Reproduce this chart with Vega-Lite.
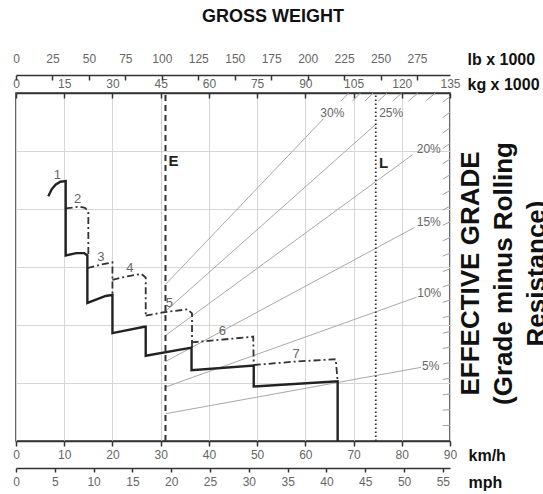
{
  "$schema": "https://vega.github.io/schema/vega-lite/v6.json",
  "width": 434,
  "height": 348,
  "autosize": {"type": "none"},
  "padding": {"left": 16, "top": 93, "right": 93, "bottom": 53},
  "background": "white",
  "title": {"text": "GROSS WEIGHT", "anchor": "middle", "dx": 40, "offset": 25, "fontSize": 18, "fontWeight": "bold", "font": "Liberation Sans", "color": "#111"},
  "config": {
    "font": "Liberation Sans",
    "view": {"stroke": "#333", "strokeWidth": 1.5},
    "axis": {"labelFont": "Liberation Sans", "titleFont": "Liberation Sans"}
  },
  "datasets": {
    "solid": [
      {"o": 1, "k": 6.7, "r": 21.1}, {"o": 2, "k": 7.4, "r": 21.7}, {"o": 3, "k": 8.2, "r": 22.1}, {"o": 4, "k": 9.2, "r": 22.35}, {"o": 5, "k": 10.3, "r": 22.4},
      {"o": 6, "k": 10.3, "r": 16.0}, {"o": 7, "k": 12.5, "r": 16.2}, {"o": 8, "k": 14.1, "r": 16.2}, {"o": 9, "k": 14.8, "r": 16.0},
      {"o": 10, "k": 14.8, "r": 11.9}, {"o": 11, "k": 18.6, "r": 12.5}, {"o": 12, "k": 20.0, "r": 12.6},
      {"o": 13, "k": 20.0, "r": 9.3}, {"o": 14, "k": 26.6, "r": 9.85}, {"o": 15, "k": 26.9, "r": 9.85},
      {"o": 16, "k": 26.9, "r": 7.35}, {"o": 17, "k": 36.4, "r": 8.05},
      {"o": 18, "k": 36.4, "r": 6.1}, {"o": 19, "k": 49.3, "r": 6.5},
      {"o": 20, "k": 49.3, "r": 4.7}, {"o": 21, "k": 66.7, "r": 5.15},
      {"o": 22, "k": 66.7, "r": 0}
    ],
    "dd": [
      {"g": 2, "o": 1, "k": 10.3, "r": 20.05}, {"g": 2, "o": 2, "k": 13.1, "r": 20.2}, {"g": 2, "o": 3, "k": 14.3, "r": 20.1}, {"g": 2, "o": 4, "k": 15.0, "r": 19.8}, {"g": 2, "o": 5, "k": 15.0, "r": 16.0},
      {"g": 3, "o": 1, "k": 14.8, "r": 14.9}, {"g": 3, "o": 2, "k": 17.5, "r": 15.2}, {"g": 3, "o": 3, "k": 20.0, "r": 15.4}, {"g": 3, "o": 4, "k": 20.0, "r": 12.6},
      {"g": 4, "o": 1, "k": 20.0, "r": 13.9}, {"g": 4, "o": 2, "k": 23.1, "r": 14.2}, {"g": 4, "o": 3, "k": 26.0, "r": 14.4}, {"g": 4, "o": 4, "k": 26.9, "r": 14.1}, {"g": 4, "o": 5, "k": 26.9, "r": 10.8},
      {"g": 5, "o": 1, "k": 26.9, "r": 10.8}, {"g": 5, "o": 2, "k": 30.7, "r": 11.1}, {"g": 5, "o": 3, "k": 35.6, "r": 11.35}, {"g": 5, "o": 4, "k": 36.5, "r": 11.0}, {"g": 5, "o": 5, "k": 36.5, "r": 8.05},
      {"g": 6, "o": 1, "k": 36.4, "r": 8.5}, {"g": 6, "o": 2, "k": 43.0, "r": 8.75}, {"g": 6, "o": 3, "k": 49.2, "r": 9.0}, {"g": 6, "o": 4, "k": 49.3, "r": 6.5},
      {"g": 7, "o": 1, "k": 49.3, "r": 6.55}, {"g": 7, "o": 2, "k": 58.0, "r": 6.85}, {"g": 7, "o": 3, "k": 66.3, "r": 7.05}, {"g": 7, "o": 4, "k": 66.7, "r": 5.15}
    ],
    "grade": [
      {"p": 5, "k": 31, "r": 2.35}, {"p": 5, "k": 84, "r": 6.35},
      {"p": 10, "k": 31, "r": 4.65}, {"p": 10, "k": 83.1, "r": 12.4},
      {"p": 15, "k": 31, "r": 6.85}, {"p": 15, "k": 82.6, "r": 18.4},
      {"p": 20, "k": 31, "r": 9.1}, {"p": 20, "k": 82.3, "r": 24.7},
      {"p": 25, "k": 31, "r": 11.2}, {"p": 25, "k": 74.6, "r": 27.3},
      {"p": 30, "k": 31, "r": 13.5}, {"p": 30, "k": 63.8, "r": 27.8}
    ],
    "hatch": [
      {"id": 1, "k": 88.5, "r": 1.33}, {"id": 1, "k": 90, "r": 1.35},
      {"id": 2, "k": 88.5, "r": 2.66}, {"id": 2, "k": 90, "r": 2.70},
      {"id": 3, "k": 88.5, "r": 3.98}, {"id": 3, "k": 90, "r": 4.05},
      {"id": 4, "k": 88.5, "r": 5.31}, {"id": 4, "k": 90, "r": 5.40},
      {"id": 5, "k": 88.5, "r": 6.64}, {"id": 5, "k": 90, "r": 6.75},
      {"id": 6, "k": 88.5, "r": 7.97}, {"id": 6, "k": 90, "r": 8.10},
      {"id": 7, "k": 88.5, "r": 9.29}, {"id": 7, "k": 90, "r": 9.45},
      {"id": 8, "k": 88.5, "r": 10.62}, {"id": 8, "k": 90, "r": 10.80},
      {"id": 9, "k": 88.5, "r": 11.95}, {"id": 9, "k": 90, "r": 12.15},
      {"id": 10, "k": 88.5, "r": 13.28}, {"id": 10, "k": 90, "r": 13.50},
      {"id": 11, "k": 88.5, "r": 14.60}, {"id": 11, "k": 90, "r": 14.85},
      {"id": 12, "k": 88.5, "r": 15.93}, {"id": 12, "k": 90, "r": 16.20},
      {"id": 13, "k": 88.5, "r": 17.26}, {"id": 13, "k": 90, "r": 17.55},
      {"id": 14, "k": 88.5, "r": 18.59}, {"id": 14, "k": 90, "r": 18.90},
      {"id": 15, "k": 88.5, "r": 19.91}, {"id": 15, "k": 90, "r": 20.25},
      {"id": 16, "k": 88.5, "r": 21.24}, {"id": 16, "k": 90, "r": 21.60},
      {"id": 17, "k": 88.5, "r": 22.57}, {"id": 17, "k": 90, "r": 22.95},
      {"id": 18, "k": 88.5, "r": 23.90}, {"id": 18, "k": 90, "r": 24.30},
      {"id": 19, "k": 88.5, "r": 25.22}, {"id": 19, "k": 90, "r": 25.65},
      {"id": 20, "k": 88.5, "r": 26.55}, {"id": 20, "k": 90, "r": 27.00},
      {"id": 21, "k": 88.5, "r": 27.88}, {"id": 21, "k": 90, "r": 28.35},
      {"id": 22, "k": 88.5, "r": 29.21}, {"id": 22, "k": 90, "r": 29.70},
      {"id": 23, "k": 84.93, "r": 29.3}, {"id": 23, "k": 86.96, "r": 30},
      {"id": 24, "k": 81.39, "r": 29.3}, {"id": 24, "k": 83.33, "r": 30},
      {"id": 25, "k": 78.13, "r": 29.3}, {"id": 25, "k": 80.0, "r": 30},
      {"id": 26, "k": 75.13, "r": 29.3}, {"id": 26, "k": 76.92, "r": 30},
      {"id": 27, "k": 72.35, "r": 29.3}, {"id": 27, "k": 74.07, "r": 30},
      {"id": 28, "k": 69.76, "r": 29.3}, {"id": 28, "k": 71.43, "r": 30},
      {"id": 29, "k": 67.36, "r": 29.3}, {"id": 29, "k": 68.97, "r": 30}
    ],
    "glab": [
      {"t": "1", "k": 8.6, "r": 22.9}, {"t": "2", "k": 12.8, "r": 20.9}, {"t": "3", "k": 17.6, "r": 15.9},
      {"t": "4", "k": 23.6, "r": 14.9}, {"t": "5", "k": 31.8, "r": 11.9}, {"t": "6", "k": 42.8, "r": 9.5}, {"t": "7", "k": 58.1, "r": 7.5}
    ],
    "plab": [
      {"t": "30%", "k": 65.6, "r": 28.3}, {"t": "25%", "k": 77.8, "r": 28.3}, {"t": "20%", "k": 85.6, "r": 25.2},
      {"t": "15%", "k": 85.6, "r": 18.9}, {"t": "10%", "k": 85.7, "r": 12.8}, {"t": "5%", "k": 86.0, "r": 6.45}
    ]
  },
  "resolve": {"scale": {"x": "independent"}, "axis": {"x": "independent"}},
  "layer": [
    {
      "encoding": {
        "x": {"field": "k", "type": "quantitative", "scale": {"domain": [0, 90], "nice": false, "zero": false},
          "axis": {"orient": "bottom", "values": [0, 10, 20, 30, 40, 50, 60, 70, 80, 90], "grid": true, "gridColor": "#d6d6d6", "gridWidth": 1,
            "domain": true, "domainColor": "#333", "domainWidth": 1.5, "ticks": true, "tickColor": "#333", "tickSize": 5, "tickWidth": 1.5,
            "labelColor": "#666", "labelFontSize": 12, "labelPadding": 3, "labelFlush": false, "labelOverlap": false,
            "title": "km/h", "titleX": 452, "titleY": 14, "titleAlign": "left", "titleBaseline": "middle", "titleAngle": 0,
            "titleFontSize": 16, "titleFontWeight": "bold", "titleColor": "#111"}},
        "y": {"field": "r", "type": "quantitative", "scale": {"domain": [0, 30], "nice": false},
          "axis": {"orient": "right", "values": [0, 5, 10, 15, 20, 25, 30], "grid": true, "gridColor": "#d6d6d6", "gridWidth": 1,
            "domain": false, "ticks": false, "labels": false,
            "title": ["EFFECTIVE GRADE", "(Grade minus Rolling", "Resistance)"], "titleAngle": 270, "titleX": 20, "titleY": 180,
            "titleAlign": "center", "titleBaseline": "middle", "titleFontSize": 26, "titleFontWeight": "bold", "titleColor": "#111", "titleLineHeight": 33}}
      },
      "layer": [
        {"data": {"name": "grade"}, "mark": {"type": "line", "color": "#a8a8a8", "strokeWidth": 1}, "encoding": {"detail": {"field": "p"}}},
        {"data": {"name": "hatch"}, "mark": {"type": "line", "color": "#a0a0a0", "strokeWidth": 1}, "encoding": {"detail": {"field": "id"}}},
        {"data": {"values": [{"k": 31, "r": 0, "r2": 30}]}, "mark": {"type": "rule", "color": "#333", "strokeWidth": 2, "strokeDash": [6, 4]}, "encoding": {"y2": {"field": "r2"}}},
        {"data": {"values": [{"k": 74.6, "r": 0, "r2": 30}]}, "mark": {"type": "rule", "color": "#333", "strokeWidth": 1.8, "strokeDash": [1.5, 2.5]}, "encoding": {"y2": {"field": "r2"}}},
        {"data": {"name": "dd"}, "mark": {"type": "line", "color": "#333", "strokeWidth": 1.8, "strokeDash": [7, 3, 2, 3]}, "encoding": {"detail": {"field": "g"}, "order": {"field": "o"}}},
        {"data": {"name": "solid"}, "mark": {"type": "line", "color": "#222", "strokeWidth": 2.4}, "encoding": {"order": {"field": "o"}}},
        {"data": {"name": "glab"}, "mark": {"type": "text", "fontSize": 13, "color": "#666"}, "encoding": {"text": {"field": "t"}}},
        {"data": {"name": "plab"}, "mark": {"type": "text", "fontSize": 12, "color": "#666"}, "encoding": {"text": {"field": "t"}}},
        {"data": {"values": [{"t": "E", "k": 31.6, "r": 24.1}, {"t": "L", "k": 75.3, "r": 24.0}]}, "mark": {"type": "text", "fontSize": 15, "fontWeight": "bold", "color": "#222", "align": "left"}, "encoding": {"text": {"field": "t"}}}
      ]
    },
    {
      "data": {"values": [{"mph": 0}, {"mph": 55}]},
      "mark": {"type": "point", "opacity": 0},
      "encoding": {"x": {"field": "mph", "type": "quantitative", "scale": {"domain": [0, 55.92], "nice": false, "zero": false},
        "axis": {"orient": "bottom", "offset": 27, "values": [0, 5, 10, 15, 20, 25, 30, 35, 40, 45, 50, 55], "grid": false,
          "domainColor": "#333", "domainWidth": 1.5, "tickColor": "#333", "tickSize": 4, "tickWidth": 1.5,
          "labelColor": "#666", "labelFontSize": 12, "labelPadding": 4, "labelFlush": false, "labelOverlap": false,
          "title": "mph", "titleX": 452, "titleY": 14, "titleAlign": "left", "titleBaseline": "middle", "titleAngle": 0,
          "titleFontSize": 16, "titleFontWeight": "bold", "titleColor": "#111"}}}
    },
    {
      "data": {"values": [{"kg": 0}, {"kg": 135}]},
      "mark": {"type": "point", "opacity": 0},
      "encoding": {"x": {"field": "kg", "type": "quantitative", "scale": {"domain": [0, 135], "nice": false, "zero": false},
        "axis": {"orient": "top", "offset": 0, "values": [0, 15, 30, 45, 60, 75, 90, 105, 120, 135], "grid": false,
          "domainColor": "#333", "domainWidth": 1.5, "tickColor": "#333", "tickSize": -5, "tickWidth": 1.5,
          "labelColor": "#666", "labelFontSize": 12, "labelPadding": 8, "labelFlush": false, "labelOverlap": false,
          "title": "kg x 1000", "titleX": 451, "titleY": -9, "titleAlign": "left", "titleBaseline": "middle", "titleAngle": 0,
          "titleFontSize": 16, "titleFontWeight": "bold", "titleColor": "#111"}}}
    },
    {
      "data": {"values": [{"lb": 0}, {"lb": 275}]},
      "mark": {"type": "point", "opacity": 0},
      "encoding": {"x": {"field": "lb", "type": "quantitative", "scale": {"domain": [0, 297.62], "nice": false, "zero": false},
        "axis": {"orient": "top", "offset": 18, "values": [0, 25, 50, 75, 100, 125, 150, 175, 200, 225, 250, 275], "grid": false,
          "domainColor": "#333", "domainWidth": 1.5, "tickColor": "#333", "tickSize": -5, "tickWidth": 1.5,
          "labelColor": "#666", "labelFontSize": 12, "labelPadding": 15, "labelFlush": false, "labelOverlap": false,
          "title": "lb x 1000", "titleX": 451, "titleY": -16, "titleAlign": "left", "titleBaseline": "middle", "titleAngle": 0,
          "titleFontSize": 16, "titleFontWeight": "bold", "titleColor": "#111"}}}
    }
  ]
}
